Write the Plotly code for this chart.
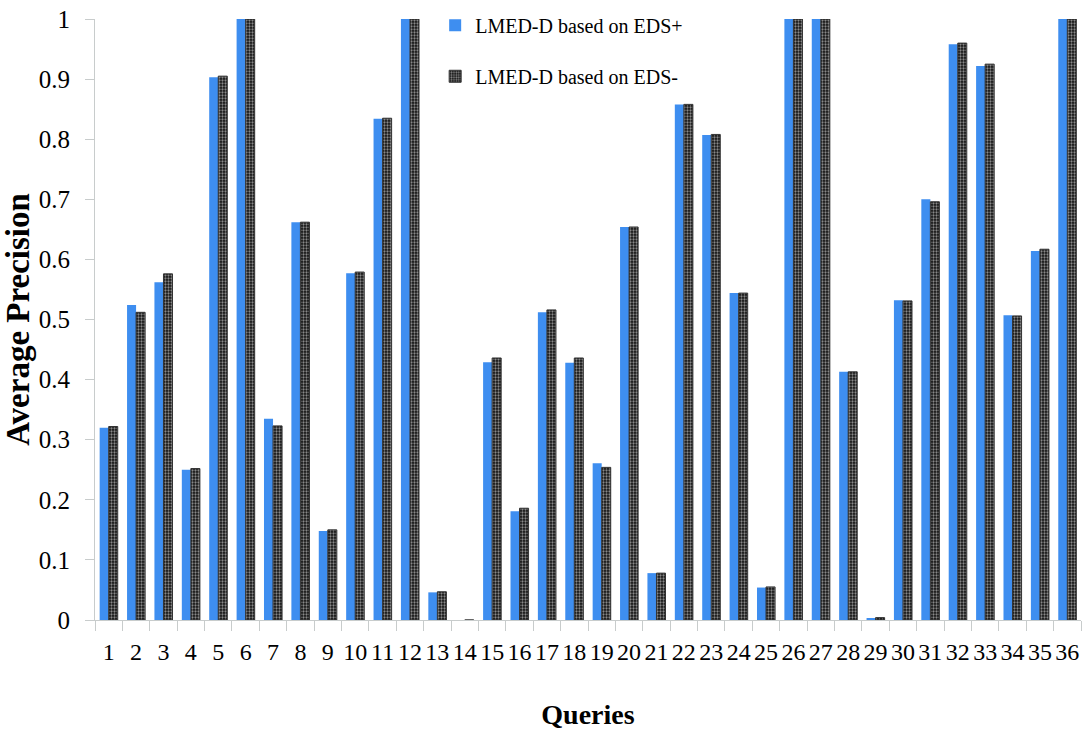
import plotly.graph_objects as go

queries = [str(i) for i in range(1, 37)]
eds_plus = [0.32, 0.524, 0.562, 0.25, 0.903, 1.0, 0.335, 0.662, 0.148, 0.577,
            0.834, 1.0, 0.046, 0.0, 0.429, 0.181, 0.512, 0.428, 0.261, 0.654,
            0.078, 0.858, 0.807, 0.544, 0.054, 1.0, 1.0, 0.413, 0.002, 0.532,
            0.700, 0.958, 0.922, 0.507, 0.614, 1.0]
eds_minus = [0.322, 0.512, 0.576, 0.252, 0.905, 1.0, 0.323, 0.662, 0.150, 0.579,
             0.835, 1.0, 0.047, 0.0, 0.436, 0.186, 0.516, 0.436, 0.254, 0.654,
             0.078, 0.858, 0.808, 0.544, 0.055, 1.0, 1.0, 0.413, 0.004, 0.531,
             0.696, 0.960, 0.925, 0.506, 0.617, 1.0]
y_ticks = [0, 0.1, 0.2, 0.3, 0.4, 0.5, 0.6, 0.7, 0.8, 0.9, 1]
y_tick_text = ["0", "0.1", "0.2", "0.3", "0.4", "0.5", "0.6", "0.7", "0.8", "0.9", "1"]
name_plus = "LMED-D based on EDS+"
name_minus = "LMED-D based on EDS-"

serif = "Liberation Serif, Times New Roman, serif"

fig = go.Figure()
fig.add_trace(go.Bar(
    x=queries, y=eds_plus, name=name_plus, legendgroup="a",
    marker=dict(color="#3e8ef0", line=dict(width=0)),
))
fig.add_trace(go.Bar(
    x=queries, y=eds_minus, name=name_minus, legendgroup="b",
    marker=dict(color="#111111", line=dict(color="#333333", width=1),
                pattern=dict(shape=".", fgcolor="white", bgcolor="#111111",
                             size=3, solidity=0.45)),
))

fig.update_layout(
    width=1085, height=738,
    margin=dict(l=95, r=4, t=19, b=118, autoexpand=False),
    paper_bgcolor="white", plot_bgcolor="white",
    barmode="group", bargap=0.34, bargroupgap=0.0,
    font=dict(family=serif, color="black"),
    showlegend=True,
    legend=dict(x=0.345, y=1.022, xanchor="left", yanchor="top",
                font=dict(family=serif, size=20, color="black"),
                bgcolor="rgba(0,0,0,0)", traceorder="grouped",
                tracegroupgap=22, itemwidth=30),
)
fig.update_xaxes(
    type="category", tickson="boundaries", dtick=1, tickangle=0,
    showline=True, linecolor="#c8cccc", linewidth=1,
    ticks="outside", ticklen=10, tickcolor="#c8cccc",
    tickfont=dict(family=serif, size=24, color="black"),
    ticklabelstandoff=10,
    showgrid=False,
    title=dict(text="<b>Queries</b>", font=dict(family=serif, size=28, color="black"),
               standoff=40),
)
fig.update_yaxes(
    range=[0, 1.0001], tickmode="array", tickvals=y_ticks, ticktext=y_tick_text,
    showline=True, linecolor="#c8cccc", linewidth=1,
    ticks="outside", ticklen=9, tickcolor="#c8cccc",
    tickfont=dict(family=serif, size=25, color="black"),
    ticklabelstandoff=10,
    showgrid=False, zeroline=False,
    title=dict(text="<b>Average Precision</b>", font=dict(family=serif, size=33, color="black"),
               standoff=12),
)

fig.write_html(
    "out.html",
    config={"displayModeBar": False},
    post_script="document.body.style.margin='0';document.body.style.overflow='hidden';",
)
